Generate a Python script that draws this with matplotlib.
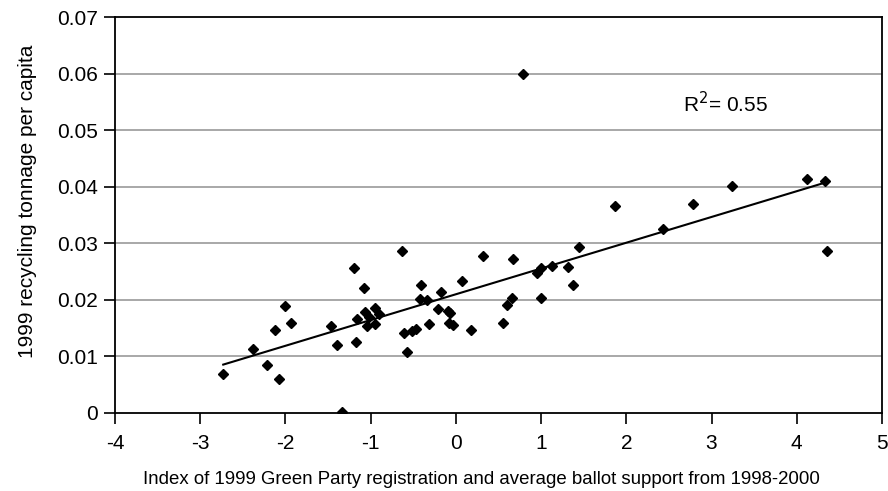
import numpy as np
import matplotlib
matplotlib.use('Agg')
import matplotlib.pyplot as plt

plt.rcParams['font.family'] = ['Liberation Sans', 'DejaVu Sans']

# green party index vs recycling tonnage
green_index = [-2.73, -2.38, -2.22, -2.07, -2.12, -2.005, -1.94, -1.465, -1.39, -1.34,
               -1.19, -1.175, -1.163, -1.074, -1.046, -1.066, -1.02, -0.945, -0.945, -0.898,
               -0.63, -0.608, -0.57, -0.518, -0.467, -0.42, -0.408, -0.342, -0.318, -0.177,
               -0.205, -0.09, -0.068, -0.076, -0.03, 0.073, 0.175, 0.323, 0.675, 0.55,
               0.605, 0.656, 0.789, 0.957, 1.004, 1.004, 1.133, 1.32, 1.376, 1.446,
               1.873, 2.427, 2.788, 3.242, 4.12, 4.333, 4.36]
recycling = [0.0069, 0.0113, 0.0084, 0.0060, 0.0146, 0.0189, 0.0159, 0.0153, 0.0120, 0.0002,
             0.0256, 0.0126, 0.0166, 0.0220, 0.0153, 0.0178, 0.0169, 0.0185, 0.0157, 0.0174,
             0.0287, 0.0142, 0.0107, 0.0145, 0.0149, 0.0201, 0.0227, 0.0199, 0.0157, 0.0214,
             0.0184, 0.0180, 0.0176, 0.0159, 0.0156, 0.0233, 0.0147, 0.0277, 0.0272, 0.0159,
             0.0190, 0.0203, 0.0599, 0.0247, 0.0256, 0.0203, 0.0260, 0.0258, 0.0226, 0.0294,
             0.0366, 0.0326, 0.0369, 0.0401, 0.0414, 0.0411, 0.0287]
r2_label = 'R$^{2}$= 0.55'

xticks = [-4, -3, -2, -1, 0, 1, 2, 3, 4, 5]
yticks = [0, 0.01, 0.02, 0.03, 0.04, 0.05, 0.06, 0.07]
ytick_labels = ['0', '0.01', '0.02', '0.03', '0.04', '0.05', '0.06', '0.07']

fig = plt.figure(figsize=(8.88, 4.91), dpi=100)
ax = fig.add_axes([0.1295, 0.1595, 0.8637, 0.805])

x = np.array(green_index)
y = np.array(recycling)

# linear trend
slope, icpt = np.polyfit(x, y, 1)
xs = np.array([x.min(), x.max()])
ax.plot(xs, slope * xs + icpt, color='black', lw=1.5, zorder=3)

ax.plot(x, y, 'D', color='black', markersize=4.8, zorder=4)

ax.set_xlim(-4, 5)
ax.set_ylim(0, 0.07)
ax.set_xticks(xticks)
ax.set_xticklabels([str(t) for t in xticks])
ax.set_yticks(yticks)
ax.set_yticklabels(ytick_labels)
ax.tick_params(direction='out', length=8, width=1.2, labelsize=15, pad=4)
ax.tick_params(axis='x', pad=7)

for g in yticks[1:-1]:
    ax.axhline(g, color='#999999', lw=1.2, zorder=1)

for s in ax.spines.values():
    s.set_linewidth(1.3)

ax.text(2.67, 0.0547, r2_label, fontsize=15, va='center', ha='left')

ax.set_xlabel('Index of 1999 Green Party registration and average ballot support from 1998-2000',
              fontsize=13.4)
ax.xaxis.set_label_coords(0.478, -0.148)
ax.set_ylabel('1999 recycling tonnage per capita', fontsize=15)
ax.yaxis.set_label_coords(-0.102, 0.536)

fig.savefig('out.png', dpi=100)
